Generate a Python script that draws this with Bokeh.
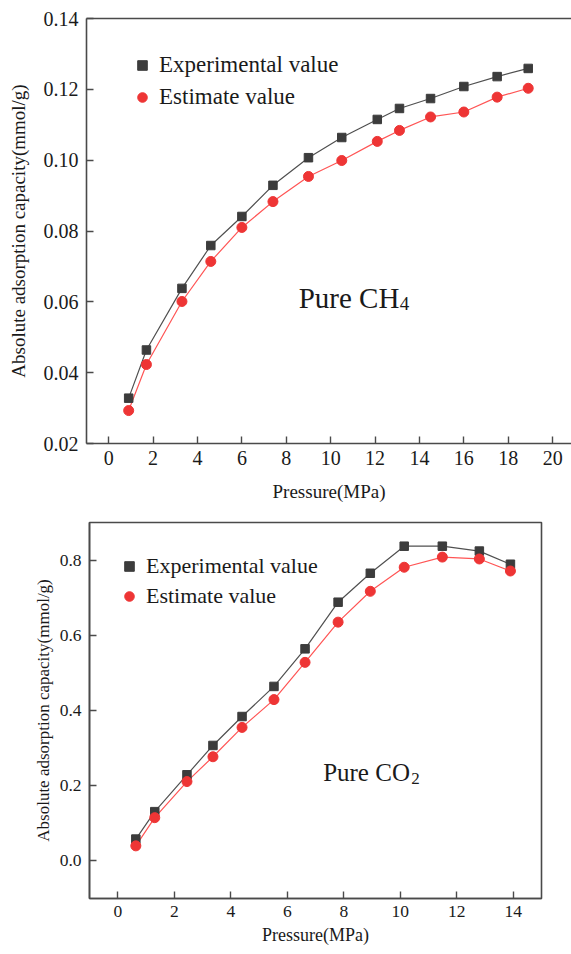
from bokeh.plotting import figure
from bokeh.models import Range1d, FixedTicker, LinearAxis, Legend, LegendItem, Label
from bokeh.layouts import column
from bokeh.embed import file_html
from bokeh.resources import INLINE

FONT = "Liberation Serif"

# ---- data: pure CH4 ----
ch4_pressure = [0.9, 1.7, 3.3, 4.6, 6.0, 7.4, 9.0, 10.5, 12.1, 13.1, 14.5, 16.0, 17.5, 18.9]
ch4_experimental = [0.0328, 0.0464, 0.0638, 0.0759, 0.0841, 0.0929, 0.1007, 0.1064,
                    0.1115, 0.1146, 0.1174, 0.1208, 0.1236, 0.1259]
ch4_estimate = [0.0293, 0.0423, 0.0601, 0.0714, 0.0810, 0.0883, 0.0954, 0.0999,
                0.1053, 0.1084, 0.1122, 0.1136, 0.1178, 0.1203]

# ---- data: pure CO2 ----
co2_pressure = [0.64, 1.31, 2.45, 3.37, 4.4, 5.53, 6.63, 7.8, 8.94, 10.14, 11.49, 12.8, 13.9]
co2_experimental = [0.058, 0.131, 0.229, 0.307, 0.384, 0.464, 0.564, 0.688, 0.765,
                    0.837, 0.837, 0.824, 0.789]
co2_estimate = [0.040, 0.115, 0.211, 0.277, 0.355, 0.429, 0.528, 0.635, 0.717,
                0.781, 0.808, 0.803, 0.771]

# ---- ticks ----
top_x_ticks = [0, 2, 4, 6, 8, 10, 12, 14, 16, 18, 20]
top_y_ticks = [0.02, 0.04, 0.06, 0.08, 0.10, 0.12, 0.14]
top_y_labels = ["0.02", "0.04", "0.06", "0.08", "0.10", "0.12", "0.14"]
bot_x_ticks = [0, 2, 4, 6, 8, 10, 12, 14]
bot_y_ticks = [0.0, 0.2, 0.4, 0.6, 0.8]
bot_y_labels = ["0.0", "0.2", "0.4", "0.6", "0.8"]

series_names = ["Experimental value", "Estimate value"]
x_title = "Pressure(MPa)"
y_title = "Absolute adsorption capacity(mmol/g)"

AXIS_COLOR = "#4a4a4a"
TEXT_COLOR = "#1a1a1a"
EXP_COLOR = "#3c3c3c"
EXP_LINE = "#505050"
EST_COLOR = "#ee3535"
EST_LINE = "#ff5555"


def style_axes(p, xticks, yticks, ylabels, tick_font, xlab_font, ylab_font,
               x_std, xlab_std, y_std, ylab_std):
    p.grid.visible = False
    xa = p.xaxis[0]
    ya = p.yaxis[0]
    xa.ticker = FixedTicker(ticks=xticks)
    ya.ticker = FixedTicker(ticks=yticks)
    ya.major_label_overrides = {t: l for t, l in zip(yticks, ylabels)}
    for ax in (xa, ya):
        ax.axis_line_color = AXIS_COLOR
        ax.axis_line_width = 1.6
        ax.major_tick_line_color = AXIS_COLOR
        ax.major_tick_line_width = 1.4
        ax.major_tick_in = 7
        ax.major_tick_out = 0
        ax.minor_tick_line_color = None
        ax.major_label_text_font = FONT
        ax.major_label_text_font_size = tick_font
        ax.major_label_text_color = TEXT_COLOR
        ax.axis_label_text_font = FONT
        ax.axis_label_text_font_style = "normal"
        ax.axis_label_text_color = TEXT_COLOR
    xa.axis_label = x_title
    ya.axis_label = y_title
    xa.axis_label_text_font_size = xlab_font
    ya.axis_label_text_font_size = ylab_font
    xa.major_label_standoff = x_std
    xa.axis_label_standoff = xlab_std
    ya.major_label_standoff = y_std
    ya.axis_label_standoff = ylab_std


def add_series(p, xs, exp, est, sq_size, c_size):
    p.line(xs, exp, line_color=EXP_LINE, line_width=1.2)
    p.line(xs, est, line_color=EST_LINE, line_width=1.2)
    r_exp = p.scatter(xs, exp, marker="square", size=sq_size,
                      fill_color=EXP_COLOR, line_color=EXP_COLOR)
    r_est = p.scatter(xs, est, marker="circle", size=c_size,
                      fill_color=EST_COLOR, line_color=EST_COLOR)
    return r_exp, r_est


# ================= top chart: CH4 =================
p1 = figure(width=571, height=505, x_range=Range1d(-1, 20.85), y_range=Range1d(0.02, 0.14),
            output_backend="svg", toolbar_location=None, frame_align=False,
            min_border_left=86, min_border_right=0, min_border_top=18, min_border_bottom=62)
p1.outline_line_color = None
p1.background_fill_color = "white"
style_axes(p1, top_x_ticks, top_y_ticks, top_y_labels, "20px", "19px", "19px",
           7, 13, 8, 12)
top_axis = LinearAxis(ticker=FixedTicker(ticks=[]), major_label_text_font_size="0px",
                      axis_line_color=AXIS_COLOR, axis_line_width=1.6,
                      major_tick_line_color=None, minor_tick_line_color=None)
p1.add_layout(top_axis, "above")
e1, s1 = add_series(p1, ch4_pressure, ch4_experimental, ch4_estimate, 8.5, 10)
leg1 = Legend(items=[LegendItem(label=series_names[0], renderers=[e1]),
                     LegendItem(label=series_names[1], renderers=[s1])],
              location=(44, 333), border_line_color=None, background_fill_alpha=0,
              padding=0, margin=0, spacing=6, glyph_width=24, glyph_height=24,
              label_standoff=5, label_text_font=FONT, label_text_font_size="23px",
              label_text_color=TEXT_COLOR)
p1.add_layout(leg1)
p1.add_layout(Label(x=8.56, y=0.0612, text="Pure CH", text_font=FONT,
                    text_font_size="29px", text_color=TEXT_COLOR, text_baseline="alphabetic"))
p1.add_layout(Label(x=8.56, y=0.0612, x_offset=101, y_offset=-6, text="4", text_font=FONT,
                    text_font_size="19px", text_color=TEXT_COLOR, text_baseline="alphabetic"))

# ================= bottom chart: CO2 =================
p2 = figure(width=556, height=445, x_range=Range1d(-1, 15), y_range=Range1d(-0.1, 0.9),
            output_backend="svg", toolbar_location=None, frame_align=False,
            min_border_left=89, min_border_right=15, min_border_top=17, min_border_bottom=52)
p2.outline_line_color = AXIS_COLOR
p2.outline_line_width = 1.6
style_axes(p2, bot_x_ticks, bot_y_ticks, bot_y_labels, "17.5px", "18px", "17px",
           7, 5, 8, 4)
e2, s2 = add_series(p2, co2_pressure, co2_experimental, co2_estimate, 8.5, 10)
leg2 = Legend(items=[LegendItem(label=series_names[0], renderers=[e2]),
                     LegendItem(label=series_names[1], renderers=[s2])],
              location=(28, 289), border_line_color=None, background_fill_alpha=0,
              padding=0, margin=0, spacing=4, glyph_width=24, glyph_height=24,
              label_standoff=5, label_text_font=FONT, label_text_font_size="22px",
              label_text_color=TEXT_COLOR)
p2.add_layout(leg2)
p2.add_layout(Label(x=7.27, y=0.235, text="Pure CO", text_font=FONT,
                    text_font_size="25px", text_color=TEXT_COLOR, text_baseline="alphabetic"))
p2.add_layout(Label(x=7.27, y=0.235, x_offset=88, y_offset=-6, text="2", text_font=FONT,
                    text_font_size="17px", text_color=TEXT_COLOR, text_baseline="alphabetic"))

layout = column(p1, p2)
open("out.html", "w").write(file_html(layout, INLINE))
